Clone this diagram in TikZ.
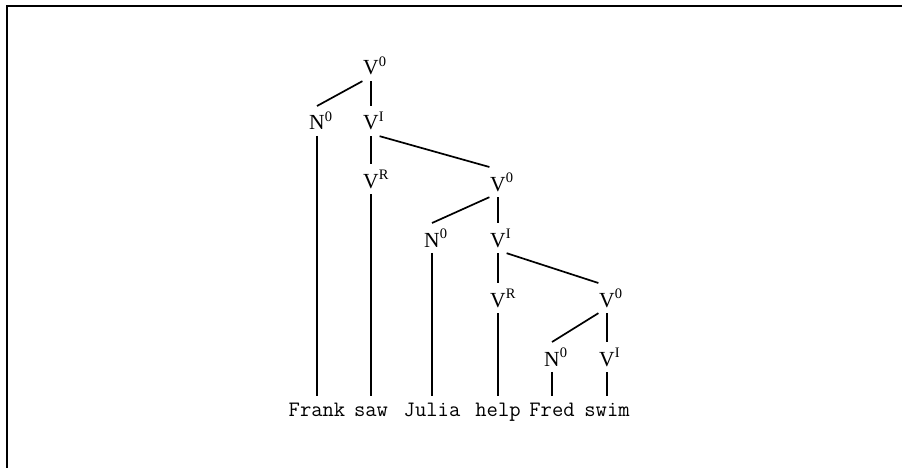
\documentclass[tikz,border=0pt]{standalone}
\usepackage{fontspec}
\setmainfont{Liberation Serif}
% category label with a raised index that takes no width
\newcommand{\cat}[2]{#1\rlap{\raisebox{8.5pt}{\fontsize{14.5}{14.5}\selectfont #2}}}

\begin{document}
\begin{tikzpicture}[x=1pt, y=-1pt, line width=1.7pt,
    lab/.style={anchor=base, inner xsep=0pt, inner ysep=5pt, font=\fontsize{21.5}{21.5}\selectfont},
    word/.style={anchor=base, inner sep=6pt, text height=13pt, font=\ttfamily\fontsize{22}{22}\selectfont}]
    \useasboundingbox (0,0) rectangle (902,468);

    % Frame (top and left edge only)
    \draw[line width=2pt] (6.5,468) -- (6.5,6.5) -- (902,6.5);

    % Nodes (categories)
    \node[lab] (v0a) at (371,75) {\cat{V}{0}};
    \node[lab] (n0a) at (317,130) {\cat{N}{0}};
    \node[lab] (via) at (371,130) {\cat{V}{I}};
    \node[lab] (vra) at (371,188) {\cat{V}{R}};
    \node[lab] (v0b) at (498,191) {\cat{V}{0}};
    \node[lab] (n0b) at (432,247) {\cat{N}{0}};
    \node[lab] (vib) at (498,247) {\cat{V}{I}};
    \node[lab] (vrb) at (498,307) {\cat{V}{R}};
    \node[lab] (v0c) at (607,307) {\cat{V}{0}};
    \node[lab] (n0c) at (552,366) {\cat{N}{0}};
    \node[lab] (vic) at (607,366) {\cat{V}{I}};

    % Words
    \node[word] (frank) at (317,416) {Frank};
    \node[word] (saw)   at (371,416) {saw};
    \node[word] (julia) at (432,416) {Julia};
    \node[word] (help)  at (498,416) {help};
    \node[word] (fred)  at (552,416) {Fred};
    \node[word] (swim)  at (607,416) {swim};

    % Branches
    \draw (v0a.south west) -- (n0a.north);
    \draw (v0a) -- (via);
    \draw (via.south east) -- (v0b.north west);
    \draw (via) -- (vra);
    \draw (v0b.south west) -- (n0b.north);
    \draw (v0b) -- (vib);
    \draw (vib.south east) -- (v0c.north west);
    \draw (vib) -- (vrb);
    \draw (v0c.south west) -- (n0c.north);
    \draw (v0c) -- (vic);

    % Leaves
    \draw (n0a) -- (frank);
    \draw (vra) -- (saw);
    \draw (n0b) -- (julia);
    \draw (vrb) -- (help);
    \draw (n0c) -- (fred);
    \draw (vic) -- (swim);
\end{tikzpicture}
\end{document}
